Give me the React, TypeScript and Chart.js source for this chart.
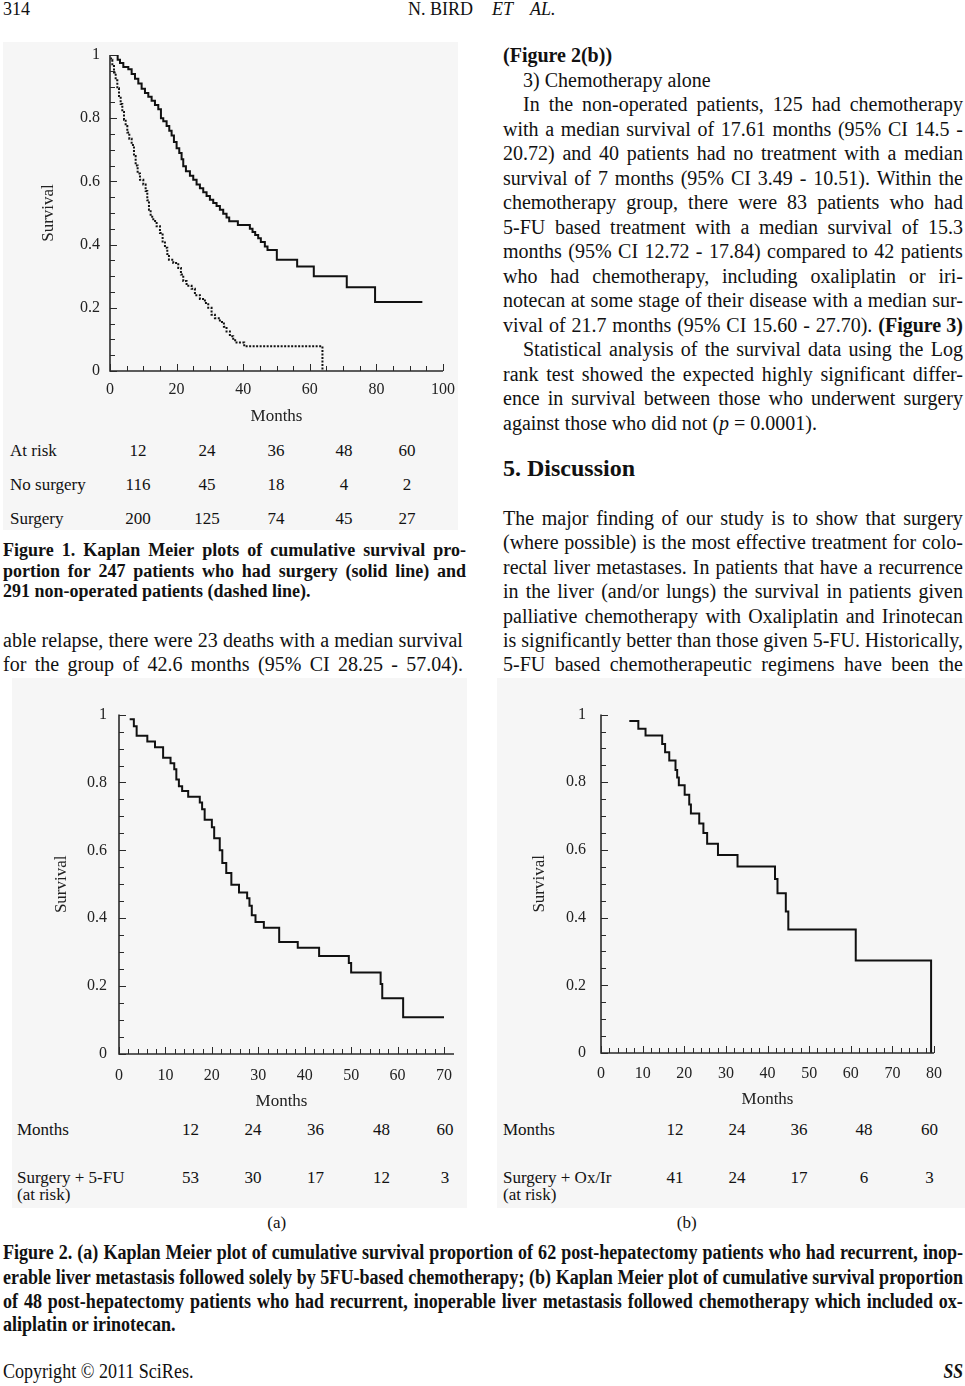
import React, { useEffect, useRef } from 'react';
import { Chart, registerables } from 'chart.js';

Chart.register(...registerables);

const SERIF = "'Liberation Serif', 'Times New Roman', serif";

// ---------- Figure 1 data ----------
const fig1SurgeryMonths = [0, 2.3, 3.0, 4.0, 5.5, 6.5, 7.5, 8.5, 9.5, 10.5, 11.5, 12.5, 13.5, 14.5, 15.3, 16.0, 17.0, 17.8, 18.5, 19.2, 20.0, 20.8, 21.5, 22.0, 22.8, 24.0, 25.0, 26.0, 27.0, 28.0, 29.0, 30.0, 31.0, 32.0, 33.0, 34.0, 35.0, 35.8, 38.4, 42.0, 42.8, 43.6, 44.5, 45.3, 46.5, 47.3, 50.1, 56.2, 61.2, 71.1, 79.6, 93.8];
const fig1SurgerySurvival = [1.0, 0.985, 0.975, 0.962, 0.955, 0.94, 0.925, 0.91, 0.893, 0.88, 0.868, 0.855, 0.842, 0.828, 0.80, 0.79, 0.775, 0.76, 0.745, 0.725, 0.705, 0.69, 0.67, 0.648, 0.632, 0.618, 0.605, 0.59, 0.578, 0.566, 0.554, 0.542, 0.532, 0.522, 0.51, 0.498, 0.486, 0.474, 0.462, 0.45, 0.44, 0.43, 0.42, 0.408, 0.394, 0.383, 0.352, 0.331, 0.30, 0.265, 0.218, 0.218];
const fig1NoSurgeryMonths = [0, 0.3, 0.7, 1.2, 1.7, 2.2, 2.7, 3.2, 3.7, 4.2, 4.7, 5.2, 5.8, 6.5, 7.2, 7.7, 8.3, 9.0, 10.0, 10.7, 11.2, 11.7, 12.2, 13.0, 14.0, 15.0, 15.8, 16.5, 17.2, 17.7, 19.0, 20.5, 21.3, 22.0, 23.0, 24.5, 25.5, 27.0, 28.5, 29.5, 30.5, 31.5, 33.0, 34.2, 35.0, 36.0, 37.0, 38.0, 40.3, 63.8];
const fig1NoSurgerySurvival = [1.0, 0.985, 0.965, 0.945, 0.92, 0.895, 0.87, 0.845, 0.82, 0.795, 0.775, 0.755, 0.735, 0.715, 0.68, 0.65, 0.625, 0.605, 0.59, 0.57, 0.54, 0.51, 0.488, 0.475, 0.458, 0.437, 0.41, 0.39, 0.37, 0.352, 0.342, 0.326, 0.305, 0.285, 0.27, 0.26, 0.24, 0.228, 0.215, 0.2, 0.178, 0.167, 0.155, 0.14, 0.125, 0.11, 0.097, 0.09, 0.078, 0];
const fig1RiskMonths = [12, 24, 36, 48, 60];
const fig1RiskNoSurgery = [116, 45, 18, 4, 2];
const fig1RiskSurgery = [200, 125, 74, 45, 27];

// ---------- Figure 2(a) data ----------
const fig2aMonths = [2.3, 3.2, 3.8, 6.1, 7.75, 9.5, 11.1, 11.9, 12.35, 12.9, 13.6, 14.9, 17.4, 17.9, 18.45, 20.0, 20.5, 21.7, 22.25, 23.1, 24.2, 25.85, 27.6, 28.1, 28.6, 29.4, 31.2, 34.5, 38.5, 43.1, 49.5, 50.0, 56.35, 56.7, 61.2, 70.0];
const fig2aSurvival = [0.986, 0.966, 0.938, 0.921, 0.904, 0.873, 0.857, 0.839, 0.809, 0.789, 0.775, 0.758, 0.741, 0.721, 0.69, 0.668, 0.636, 0.60, 0.563, 0.533, 0.499, 0.476, 0.459, 0.437, 0.409, 0.389, 0.372, 0.33, 0.313, 0.289, 0.268, 0.24, 0.206, 0.164, 0.108, 0.108];
const fig2aRiskMonths = [12, 24, 36, 48, 60];
const fig2aRisk = [53, 30, 17, 12, 3];

// ---------- Figure 2(b) data ----------
const fig2bMonths = [6.8, 8.97, 10.7, 14.7, 15.4, 16.4, 17.9, 18.3, 18.7, 20.1, 21.2, 21.6, 23.6, 24.6, 25.5, 28.1, 32.8, 41.8, 42.4, 44.4, 45.0, 61.2, 79.3];
const fig2bSurvival = [0.981, 0.958, 0.938, 0.913, 0.889, 0.864, 0.836, 0.814, 0.791, 0.763, 0.734, 0.708, 0.678, 0.65, 0.618, 0.585, 0.551, 0.514, 0.472, 0.418, 0.365, 0.273, 0];
const fig2bRiskMonths = [12, 24, 36, 48, 60];
const fig2bRisk = [41, 24, 17, 6, 3];

function makeTicksPlugin(extend: number) {
  return {
    id: 'innerTicks',
    afterDatasetsDraw(chart: any) {
      const { ctx, chartArea: a, scales } = chart;
      const xs = scales.x;
      const ys = scales.y;
      ctx.save();
      ctx.strokeStyle = '#2a2a2a';
      ctx.lineWidth = 1;
      ctx.beginPath();
      for (const t of ys.ticks) {
        const py = Math.round(ys.getPixelForValue(t.value)) + 0.5;
        ctx.moveTo(a.left, py);
        ctx.lineTo(a.left + (t.label ? 7 : 5), py);
      }
      for (const t of xs.ticks) {
        const px = Math.round(xs.getPixelForValue(t.value)) + 0.5;
        ctx.moveTo(px, a.bottom);
        ctx.lineTo(px, a.bottom - (t.label ? 7 : 5));
      }
      ctx.stroke();
      ctx.lineWidth = 1.6;
      ctx.beginPath();
      ctx.moveTo(a.left, a.top);
      ctx.lineTo(a.left, a.bottom);
      ctx.lineTo(a.right + extend, a.bottom);
      ctx.stroke();
      ctx.restore();
    },
  };
}

type Series = { months: number[]; surv: number[]; dash?: number[] };
type KMProps = {
  left: number; top: number; width: number; height: number;
  area: { left: number; right: number; top: number; bottom: number };
  series: Series[];
  xMax: number; xStep: number; xLabelStep: number;
  yTitleX: number; xTitleY: number; xLabelGap: number; yLabelGap: number;
  extend?: number;
};

function KMChart(p: KMProps) {
  const ref = useRef<HTMLCanvasElement>(null);
  useEffect(() => {
    const canvas = ref.current;
    if (!canvas) return;
    const titleLH = 17 * 1.2;
    const tickLH = 16 * 1.2;
    const pl = p.yTitleX - titleLH / 2;
    const chart = new Chart(canvas, {
      type: 'line',
      data: {
        datasets: p.series.map((s) => ({
          data: s.months.map((m, i) => ({ x: m, y: s.surv[i] })),
          stepped: true,
          borderColor: '#111',
          borderWidth: 2,
          borderDash: s.dash || [],
          pointRadius: 0,
          fill: false,
          tension: 0,
        })),
      },
      options: {
        responsive: false,
        animation: false,
        events: [],
        layout: { padding: { left: pl, right: p.width - p.area.right, top: p.area.top, bottom: 0 } },
        plugins: { legend: { display: false }, tooltip: { enabled: false } },
        scales: {
          x: {
            type: 'linear',
            min: 0,
            max: p.xMax,
            grid: { display: false, drawTicks: false },
            border: { display: false },
            ticks: {
              stepSize: p.xStep,
              autoSkip: false,
              maxRotation: 0,
              padding: p.xLabelGap - tickLH / 2,
              color: '#222',
              font: { family: SERIF, size: 16 },
              callback: (v: any) => (Math.round(Number(v)) % p.xLabelStep === 0 ? String(Math.round(Number(v))) : ''),
            },
            title: {
              display: true,
              text: 'Months',
              color: '#222',
              font: { family: SERIF, size: 17 },
              padding: { top: 0, bottom: p.height - p.xTitleY - titleLH / 2 },
            },
            afterFit: (s: any) => { s.height = p.height - p.area.bottom; },
          },
          y: {
            type: 'linear',
            min: 0,
            max: 1,
            grid: { display: false, drawTicks: false },
            border: { display: false },
            ticks: {
              stepSize: 0.05,
              autoSkip: false,
              padding: p.yLabelGap,
              color: '#222',
              font: { family: SERIF, size: 16 },
              callback: (v: any) => {
                const r = Math.round(Number(v) * 100);
                if (r % 20 !== 0) return '';
                if (r === 0) return '0';
                if (r === 100) return '1';
                return (r / 100).toFixed(1);
              },
            },
            title: {
              display: true,
              text: 'Survival',
              color: '#222',
              font: { family: SERIF, size: 17 },
              padding: { top: 0, bottom: 0 },
            },
            afterFit: (s: any) => { s.width = p.area.left - pl; },
          },
        },
      } as any,
      plugins: [makeTicksPlugin(p.extend || 0)],
    });
    return () => chart.destroy();
  }, []);
  return (
    <canvas
      ref={ref}
      width={p.width}
      height={p.height}
      style={{ position: 'absolute', left: p.left, top: p.top, width: p.width, height: p.height }}
    />
  );
}

function T(p: { x: number; y: number; size?: number; align?: 'left' | 'center' | 'right'; bold?: boolean; italic?: boolean; children: any; style?: any }) {
  const tx = p.align === 'center' ? '-50%' : p.align === 'right' ? '-100%' : '0';
  return (
    <div
      style={{
        position: 'absolute', left: p.x, top: p.y, transform: `translate(${tx}, -50%)`,
        fontSize: p.size || 17, fontWeight: p.bold ? 'bold' : 'normal', fontStyle: p.italic ? 'italic' : 'normal',
        whiteSpace: 'pre', lineHeight: 1.2, ...(p.style || {}),
      }}
    >
      {p.children}
    </div>
  );
}

function J(p: { x: number; y: number; w: number; words: any; size?: number; bold?: boolean; indent?: number }) {
  const list: any[] = typeof p.words === 'string' ? p.words.split(' ') : p.words;
  const ind = p.indent || 0;
  return (
    <div
      style={{
        position: 'absolute', left: p.x + ind, top: p.y, width: p.w - ind, transform: 'translateY(-50%)',
        display: 'flex', justifyContent: 'space-between', fontSize: p.size || 20, lineHeight: 1.2,
        whiteSpace: 'pre', fontWeight: p.bold ? 'bold' : 'normal',
      }}
    >
      {list.map((wd, i) => <span key={i}>{wd}</span>)}
    </div>
  );
}

const CAP_SCALE = 0.88;
function CapLine(p: { y: number; text: string; justify: boolean; bold?: boolean; size?: number }) {
  const w = 960 / CAP_SCALE;
  const words = p.text.split(' ');
  return (
    <div
      style={{
        position: 'absolute', left: 3, top: p.y, width: w, transform: `translateY(-50%) scaleX(${CAP_SCALE})`,
        transformOrigin: '0 50%', display: 'flex', justifyContent: p.justify ? 'space-between' : 'flex-start',
        fontSize: p.size || 20.5, lineHeight: 1.2, whiteSpace: 'pre', fontWeight: p.bold === false ? 'normal' : 'bold',
      }}
    >
      {p.justify ? words.map((wd, i) => <span key={i}>{wd}</span>) : <span>{p.text}</span>}
    </div>
  );
}

function Panel(p: { x: number; y: number; w: number; h: number }) {
  return <div style={{ position: 'absolute', left: p.x, top: p.y, width: p.w, height: p.h, background: '#f6f6f6' }} />;
}

const RX = 503;
const RW = 460;

export default function App() {
  useEffect(() => {
    document.body.style.margin = '0';
  }, []);

  const fig1Cols = [138, 207, 276, 344, 407];
  const fig2aCols = [190.5, 253, 315.5, 381.5, 445];
  const fig2bCols = [675, 737, 799, 864, 929.5];
  const dy = 24.4;

  return (
    <div
      style={{
        position: 'absolute', left: 0, top: 0, width: 965, height: 1386, overflow: 'hidden',
        background: '#fff', color: '#111', fontFamily: SERIF,
      }}
    >
      {/* figure panels (light grey image backgrounds) */}
      <Panel x={3} y={42} w={455} h={488} />
      <Panel x={12} y={678} w={455} h={530} />
      <Panel x={497} y={678} w={468} h={530} />

      {/* header */}
      <T x={3} y={10} size={18}>314</T>
      <T x={473} y={10} size={18} align="right">N. BIRD</T>
      <T x={492} y={10} size={18} italic>ET</T>
      <T x={530} y={10} size={18} italic>AL.</T>

      {/* Figure 1 */}
      <KMChart
        left={0} top={30} width={470} height={410}
        area={{ left: 110, right: 443, top: 25, bottom: 341 }}
        series={[
          { months: fig1SurgeryMonths, surv: fig1SurgerySurvival },
          { months: fig1NoSurgeryMonths, surv: fig1NoSurgerySurvival, dash: [2, 1.5] },
        ]}
        xMax={100} xStep={5} xLabelStep={20}
        yTitleX={49} xTitleY={387} xLabelGap={19} yLabelGap={10}
      />
      <T x={10} y={450.7}>At risk</T>
      {fig1RiskMonths.map((m, i) => <T key={'a' + i} x={fig1Cols[i]} y={450.7} align="center">{m}</T>)}
      <T x={10} y={485}>No surgery</T>
      {fig1RiskNoSurgery.map((m, i) => <T key={'b' + i} x={fig1Cols[i]} y={485} align="center">{m}</T>)}
      <T x={10} y={518.5}>Surgery</T>
      {fig1RiskSurgery.map((m, i) => <T key={'c' + i} x={fig1Cols[i]} y={518.5} align="center">{m}</T>)}

      <J x={3} y={551} w={463} size={18} bold words="Figure 1. Kaplan Meier plots of cumulative survival pro-" />
      <J x={3} y={571.5} w={463} size={18} bold words="portion for 247 patients who had surgery (solid line) and" />
      <T x={3} y={592} size={18} bold>291 non-operated patients (dashed line).</T>

      {/* Left column text */}
      <J x={3} y={640} w={460} words="able relapse, there were 23 deaths with a median survival" />
      <J x={3} y={664.4} w={460} words="for the group of 42.6 months (95% CI 28.25 - 57.04)." />

      {/* Right column text */}
      <T x={RX} y={55} size={20} bold>(Figure 2(b))</T>
      <T x={RX + 20} y={79.5} size={20}>3) Chemotherapy alone</T>
      <J x={RX} y={104} w={RW} indent={20} words="In the non-operated patients, 125 had chemotherapy" />
      <J x={RX} y={128.5} w={RW} words="with a median survival of 17.61 months (95% CI 14.5 -" />
      <J x={RX} y={153} w={RW} words="20.72) and 40 patients had no treatment with a median" />
      <J x={RX} y={177.5} w={RW} words="survival of 7 months (95% CI 3.49 - 10.51). Within the" />
      <J x={RX} y={202} w={RW} words="chemotherapy group, there were 83 patients who had" />
      <J x={RX} y={226.5} w={RW} words="5-FU based treatment with a median survival of 15.3" />
      <J x={RX} y={251} w={RW} words="months (95% CI 12.72 - 17.84) compared to 42 patients" />
      <J x={RX} y={275.5} w={RW} words="who had chemotherapy, including oxaliplatin or iri-" />
      <J x={RX} y={300} w={RW} words="notecan at some stage of their disease with a median sur-" />
      <J
        x={RX} y={324.5} w={RW}
        words={['vival', 'of', '21.7', 'months', '(95%', 'CI', '15.60', '-', '27.70).', <b key="f3">(Figure 3)</b>]}
      />
      <J x={RX} y={349} w={RW} indent={20} words="Statistical analysis of the survival data using the Log" />
      <J x={RX} y={373.5} w={RW} words="rank test showed the expected highly significant differ-" />
      <J x={RX} y={398} w={RW} words="ence in survival between those who underwent surgery" />
      <T x={RX} y={422.5} size={20}>against those who did not (<i>p</i> = 0.0001).</T>

      <T x={RX} y={468} size={24} bold>5. Discussion</T>

      <J x={RX} y={518} w={RW} words="The major finding of our study is to show that surgery" />
      <J x={RX} y={518 + dy} w={RW} words="(where possible) is the most effective treatment for colo-" />
      <J x={RX} y={518 + 2 * dy} w={RW} words="rectal liver metastases. In patients that have a recurrence" />
      <J x={RX} y={518 + 3 * dy} w={RW} words="in the liver (and/or lungs) the survival in patients given" />
      <J x={RX} y={518 + 4 * dy} w={RW} words="palliative chemotherapy with Oxaliplatin and Irinotecan" />
      <J x={RX} y={518 + 5 * dy} w={RW} words="is significantly better than those given 5-FU. Historically," />
      <J x={RX} y={518 + 6 * dy} w={RW} words="5-FU based chemotherapeutic regimens have been the" />

      {/* Figure 2(a) */}
      <KMChart
        left={0} top={680} width={470} height={435}
        area={{ left: 119, right: 444, top: 34.6, bottom: 374 }}
        series={[{ months: fig2aMonths, surv: fig2aSurvival }]}
        xMax={70} xStep={2} xLabelStep={10}
        yTitleX={62} xTitleY={422} xLabelGap={22} yLabelGap={12} extend={10}
      />
      <T x={17} y={1130}>Months</T>
      {fig2aRiskMonths.map((m, i) => <T key={'d' + i} x={fig2aCols[i]} y={1130} align="center">{m}</T>)}
      <T x={17} y={1177.7}>Surgery + 5-FU</T>
      <T x={17} y={1195}>(at risk)</T>
      {fig2aRisk.map((m, i) => <T key={'e' + i} x={fig2aCols[i]} y={1177.7} align="center">{m}</T>)}
      <T x={276.7} y={1223} align="center">(a)</T>

      {/* Figure 2(b) */}
      <KMChart
        left={480} top={680} width={485} height={435}
        area={{ left: 121, right: 454, top: 34.6, bottom: 373 }}
        series={[{ months: fig2bMonths, surv: fig2bSurvival }]}
        xMax={80} xStep={2} xLabelStep={10}
        yTitleX={60} xTitleY={420} xLabelGap={21} yLabelGap={15}
      />
      <T x={503} y={1130}>Months</T>
      {fig2bRiskMonths.map((m, i) => <T key={'f' + i} x={fig2bCols[i]} y={1130} align="center">{m}</T>)}
      <T x={503} y={1177.7}>Surgery + Ox/Ir</T>
      <T x={503} y={1195}>(at risk)</T>
      {fig2bRisk.map((m, i) => <T key={'g' + i} x={fig2bCols[i]} y={1177.7} align="center">{m}</T>)}
      <T x={686.7} y={1223} align="center">(b)</T>

      {/* Figure 2 caption */}
      <CapLine y={1252} justify text="Figure 2. (a) Kaplan Meier plot of cumulative survival proportion of 62 post-hepatectomy patients who had recurrent, inop-" />
      <CapLine y={1277} justify text="erable liver metastasis followed solely by 5FU-based chemotherapy; (b) Kaplan Meier plot of cumulative survival proportion" />
      <CapLine y={1301} justify text="of 48 post-hepatectomy patients who had recurrent, inoperable liver metastasis followed chemotherapy which included ox-" />
      <CapLine y={1324} justify={false} text="aliplatin or irinotecan." />

      {/* Footer */}
      <CapLine y={1371} justify={false} bold={false} text="Copyright © 2011 SciRes." />
      <T x={963} y={1371} size={20} bold italic align="right" style={{ transform: 'translate(-100%, -50%) scaleX(0.88)', transformOrigin: '100% 50%' }}>SS</T>
    </div>
  );
}
